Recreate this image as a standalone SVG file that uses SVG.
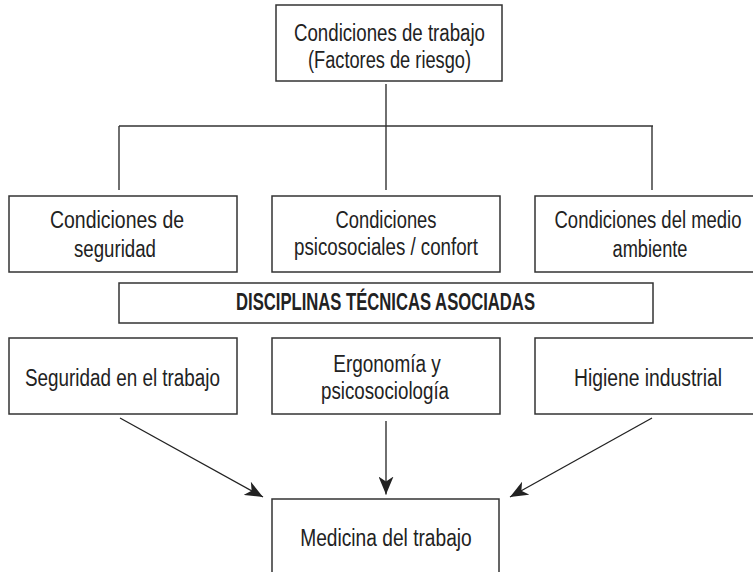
<svg xmlns="http://www.w3.org/2000/svg" width="753" height="572" viewBox="0 0 753 572">
<style>
  .box { fill: #ffffff; stroke: #333333; stroke-width: 1.5; }
  .t { font-family: "Liberation Sans Narrow", "Liberation Sans", Arial, sans-serif; font-size: 23.5px; fill: #222222; text-anchor: middle; }
  .b { font-weight: bold; }
  .ln { fill: none; stroke: #333333; stroke-width: 1.4; }
  .ar { fill: none; stroke: #222222; stroke-width: 1.3; }
</style>
<defs>
  <marker id="ah" markerUnits="userSpaceOnUse" markerWidth="19" markerHeight="15" viewBox="0 0 19 15" refX="18" refY="7.5" orient="auto">
    <path d="M0,0 L18,7.5 L0,15 L5,7.5 Z" fill="#222222"/>
  </marker>
</defs>
<rect width="753" height="572" fill="#ffffff"/>

<g id="connectors">
  <line class="ln" x1="386" y1="84" x2="386" y2="190"/>
  <line class="ln" x1="119" y1="126" x2="653" y2="126"/>
  <line class="ln" x1="119" y1="126" x2="119" y2="190"/>
  <line class="ln" x1="652" y1="126" x2="652" y2="190"/>
  <line class="ar" x1="120" y1="418" x2="263" y2="497" marker-end="url(#ah)"/>
  <line class="ar" x1="386" y1="421" x2="386" y2="494.5" marker-end="url(#ah)"/>
  <line class="ar" x1="652" y1="418" x2="510" y2="497" marker-end="url(#ah)"/>
</g>

<g id="condiciones-trabajo">
  <rect class="box" x="276" y="5" width="226" height="76"/>
  <text class="t" x="389.5" y="40.5" textLength="191" lengthAdjust="spacingAndGlyphs">Condiciones de trabajo</text>
  <text class="t" x="389.5" y="68" textLength="163" lengthAdjust="spacingAndGlyphs">(Factores de riesgo)</text>
</g>

<g id="cond-seguridad">
  <rect class="box" x="9" y="196" width="228" height="76"/>
  <text class="t" x="117" y="228" textLength="134" lengthAdjust="spacingAndGlyphs">Condiciones de</text>
  <text class="t" x="115" y="256.5" textLength="82" lengthAdjust="spacingAndGlyphs">seguridad</text>
</g>

<g id="cond-psicosociales">
  <rect class="box" x="272" y="196" width="228" height="76"/>
  <text class="t" x="386" y="227.5" textLength="101" lengthAdjust="spacingAndGlyphs">Condiciones</text>
  <text class="t" x="386" y="255" textLength="184" lengthAdjust="spacingAndGlyphs">psicosociales / confort</text>
</g>

<g id="cond-medio-ambiente">
  <rect class="box" x="535" y="196" width="228" height="76"/>
  <text class="t" x="648" y="228" textLength="187" lengthAdjust="spacingAndGlyphs">Condiciones del medio</text>
  <text class="t" x="650" y="256.5" textLength="75" lengthAdjust="spacingAndGlyphs">ambiente</text>
</g>

<g id="disciplinas">
  <rect class="box" x="119" y="283" width="534" height="40"/>
  <text class="t b" x="385.5" y="309.5" textLength="299" lengthAdjust="spacingAndGlyphs">DISCIPLINAS TÉCNICAS ASOCIADAS</text>
</g>

<g id="seguridad-trabajo">
  <rect class="box" x="9" y="338" width="228" height="76"/>
  <text class="t" x="122.5" y="386" textLength="195" lengthAdjust="spacingAndGlyphs">Seguridad en el trabajo</text>
</g>

<g id="ergonomia">
  <rect class="box" x="272" y="338" width="228" height="76"/>
  <text class="t" x="387" y="371.5" textLength="107.5" lengthAdjust="spacingAndGlyphs">Ergonomía y</text>
  <text class="t" x="385" y="398.5" textLength="128" lengthAdjust="spacingAndGlyphs">psicosociología</text>
</g>

<g id="higiene">
  <rect class="box" x="535" y="338" width="228" height="76"/>
  <text class="t" x="648" y="386" textLength="148" lengthAdjust="spacingAndGlyphs">Higiene industrial</text>
</g>

<g id="medicina">
  <rect class="box" x="272" y="499" width="227" height="85"/>
  <text class="t" x="386" y="545.5" textLength="171.5" lengthAdjust="spacingAndGlyphs">Medicina del trabajo</text>
</g>
</svg>
